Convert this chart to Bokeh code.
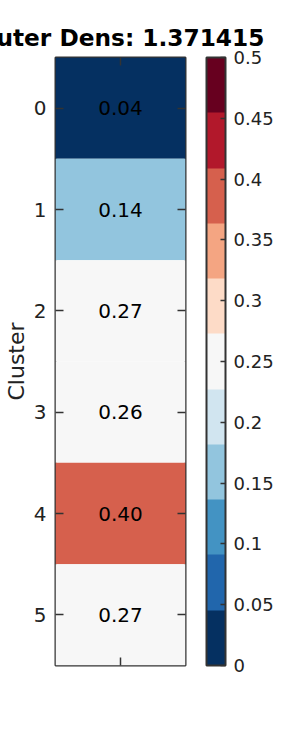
from bokeh.plotting import figure
from bokeh.models import (ColumnDataSource, LinearColorMapper, ColorBar,
                          FixedTicker, LinearAxis, Range1d)
from bokeh.palettes import RdBu11
from bokeh.transform import transform
from bokeh.core.properties import value
from bokeh.embed import file_html
from bokeh.resources import INLINE

title_text = "Outer Dens: 1.371415"
clusters = [0, 1, 2, 3, 4, 5]
densities = [0.04, 0.14, 0.27, 0.26, 0.40, 0.27]
density_labels = ["0.04", "0.14", "0.27", "0.26", "0.40", "0.27"]
cb_ticks = [0, 0.05, 0.1, 0.15, 0.2, 0.25, 0.3, 0.35, 0.4, 0.45, 0.5]
cb_labels = ["0", "0.05", "0.1", "0.15", "0.2", "0.25", "0.3", "0.35", "0.4", "0.45", "0.5"]
x_center = [0.5]
cb_low, cb_high = 0, 0.5

FONT = "DejaVu Sans"
DARK = "#333333"
TXT = "#222222"

palette = list(RdBu11)  # blue (low) -> red (high)
mapper = LinearColorMapper(palette=palette, low=cb_low, high=cb_high)

src = ColumnDataSource(dict(x=x_center * len(clusters), y=clusters,
                            d=densities, lab=density_labels))

p = figure(width=300, height=750, x_range=Range1d(0, 1),
           y_range=Range1d(len(clusters) - 0.5, -0.5),
           output_backend="svg", toolbar_location=None,
           min_border_left=54, min_border_top=57, min_border_bottom=85,
           min_border_right=115)
p.background_fill_color = "white"
p.border_fill_color = "white"
p.outline_line_color = DARK
p.outline_line_width = 2
p.xgrid.visible = False
p.ygrid.visible = False

p.title.text = title_text
p.title.align = "center"
p.title.standoff = 14
p.title.text_font = FONT
p.title.text_font_size = "23.25px"
p.title.text_font_style = "bold"
p.title.text_color = "black"

p.rect(x="x", y="y", width=1, height=1, source=src,
       fill_color=transform("d", mapper), line_color=None)
p.text(x="x", y="y", text="lab", source=src, text_align="center",
       text_baseline="middle", text_font_size="20px",
       text_font=value(FONT), text_color="black")

def style_axis(ax, ticks, show_labels):
    ax.ticker = FixedTicker(ticks=ticks)
    ax.axis_line_color = None
    ax.major_tick_in = 8
    ax.major_tick_out = 0
    ax.major_tick_line_color = DARK
    ax.major_tick_line_width = 1.5
    ax.minor_tick_line_color = None
    if show_labels:
        ax.major_label_text_font = FONT
        ax.major_label_text_font_size = "20px"
        ax.major_label_text_color = TXT
        ax.major_label_standoff = 9
    else:
        ax.major_label_overrides = {t: "" for t in ticks}
        ax.major_label_text_font_size = "1px"
        ax.major_label_text_color = None
        ax.major_label_standoff = 0

style_axis(p.xaxis[0], x_center, False)

ya = p.yaxis[0]
style_axis(ya, clusters, True)
ya.axis_label = "Cluster"
ya.axis_label_text_font = FONT
ya.axis_label_text_font_size = "22px"
ya.axis_label_text_font_style = "normal"
ya.axis_label_text_color = TXT
ya.axis_label_standoff = 2

top_ax = LinearAxis()
style_axis(top_ax, x_center, False)
p.add_layout(top_ax, "above")

right_ax = LinearAxis()
style_axis(right_ax, clusters, False)
p.add_layout(right_ax, "right")

cb = ColorBar(color_mapper=mapper, ticker=FixedTicker(ticks=cb_ticks),
              major_label_overrides=dict(zip(cb_ticks, cb_labels)),
              location="center",
              width=19, height=608, padding=21, margin=0,
              label_standoff=8, major_label_text_font=FONT,
              major_label_text_font_size="18px", major_label_text_color=TXT,
              major_tick_in=5, major_tick_out=0, major_tick_line_color=DARK,
              major_tick_line_width=1.5, minor_tick_line_color=None,
              bar_line_color=DARK, bar_line_width=2,
              background_fill_alpha=0, border_line_color=None)
p.add_layout(cb, "right")

open("out.html", "w").write(file_html(p, INLINE))
